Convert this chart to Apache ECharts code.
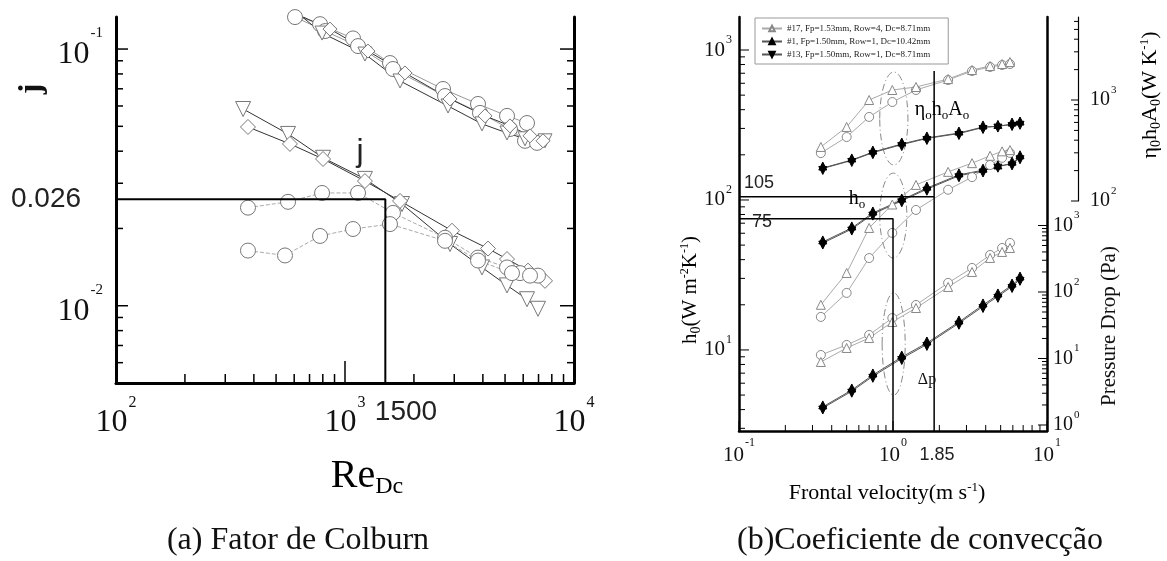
<!DOCTYPE html>
<html>
<head>
<meta charset="utf-8">
<script src="https://cdn.jsdelivr.net/npm/echarts@6/dist/echarts.min.js"></script>
<style>
  html, body { margin: 0; background: #fff; }
  #chart { width: 1167px; height: 561px; }
</style>
</head>
<body>
<div id="chart"></div>
<script>
// ---------- (a) Colburn factor vs Re_Dc ----------
// upper group (unlabelled, friction-like curves)
const reUpCirc1 = [575, 778, 1084, 1572, 2679, 3809, 5099, 6234];
const upCirc1 = [0.138, 0.125, 0.110, 0.0882, 0.0699, 0.0611, 0.0549, 0.0515];
const reUpCirc2 = [605, 818, 1140, 1620, 2734, 3886, 5254, 6109, 6893];
const upCirc2 = [0.1332, 0.1175, 0.1027, 0.0836, 0.0656, 0.0564, 0.0488, 0.0439, 0.0431];
const reUpTri = [636, 794, 1222, 1739, 2818, 3965, 5099, 6109, 7470];
const upTri = [0.1356, 0.1154, 0.0956, 0.0751, 0.0600, 0.0511, 0.0471, 0.0447, 0.0439];
const reUpDia = [575, 860, 1260, 1828, 2875, 4087, 5254, 6426, 7322];
const upDia = [0.1406, 0.1196, 0.0982, 0.0807, 0.0639, 0.0549, 0.0502, 0.0459, 0.0439];
// lower group (j)
const reJTri = [359, 564, 802, 1222, 1774, 2875, 3965, 5099, 6234, 6963];
const jTri = [0.0584, 0.0467, 0.0377, 0.0312, 0.0249, 0.0174, 0.0141, 0.0120, 0.0106, 0.00973];
const reJDia = [377, 575, 802, 1222, 1739, 2933, 4213, 5099, 6297, 7470];
const jDia = [0.0497, 0.0427, 0.0373, 0.0306, 0.0256, 0.0196, 0.0167, 0.0152, 0.0137, 0.0125];
const reJCircA = [377, 564, 794, 1140, 1620, 2734, 3809, 5099, 5810, 6963];
const jCircA = [0.0241, 0.0254, 0.0275, 0.0275, 0.0230, 0.0184, 0.0154, 0.0141, 0.0134, 0.0131];
const reJCircB = [377, 547, 778, 1084, 1572, 2734, 3809, 5361, 6426];
const jCircB = [0.0164, 0.0157, 0.0187, 0.0199, 0.0208, 0.0179, 0.0150, 0.0134, 0.0131];
const guideA = [[83, 0.026], [1500, 0.026], [1500, 0.005]];

// ---------- (b) h0, eta0h0A0 and pressure drop vs frontal velocity ----------
const legendNames = ['#17, Fp=1.53mm, Row=4, Dc=8.71mm', '#1, Fp=1.50mm, Row=1, Dc=10.42mm', '#13, Fp=1.50mm, Row=1, Dc=8.71mm'];
const vOpen = [0.34, 0.50, 0.70, 0.99, 1.41, 2.28, 3.26, 4.27, 5.11, 5.75];
const vFill = [0.35, 0.54, 0.74, 1.14, 1.66, 2.68, 3.84, 4.80, 5.93, 6.68];
// open circle (legend row cut off at the top)
const etaCirc = [298, 430, 680, 955, 1256, 1578, 1937, 2123, 2222, 2272];
const hCirc = [16.6, 24.0, 41.0, 60.3, 85.8, 117, 142, 171, 191, 206];
const dpCirc = [11.3, 16.0, 22.6, 40.6, 63.8, 137, 230, 360, 459, 546];
// #17 open triangle
const eta17 = [343, 541, 1000, 1256, 1345, 1613, 1982, 2173, 2272, 2376];
const h17 = [20.0, 32.6, 65.1, 93.3, 126, 154, 176, 197, 211, 215];
const dp17 = [8.86, 14.4, 20.3, 35.4, 57.4, 119, 200, 325, 400, 459];
// #1 filled triangle
const eta1 = [212, 255, 305, 367, 421, 471, 541, 548, 578, 592];
const h1 = [52.5, 65.1, 81.9, 100, 120, 147, 158, 166, 176, 194];
const dp1 = [1.87, 3.36, 5.65, 10.5, 17.1, 35.4, 63.8, 90.2, 127, 162];
// #13 filled down triangle
const eta13 = [210, 252, 301, 362, 416, 466, 534, 552, 572, 588];
const h13 = [51.6, 64.0, 80.5, 98.8, 118, 145, 156, 168, 174, 191];
const dp13 = [1.80, 3.22, 5.40, 10.0, 16.3, 33.9, 60.5, 86.0, 121, 155];
// annotation guides and dash-dot ellipses (velocity range, h0 range)
const guide105 = [[0.1, 105], [1.85, 105]];
const guide185 = [[1.85, 724], [1.85, 2.88]];
const guide75 = [[0.1, 75], [1, 75], [1, 2.88]];
const ellipses = [[0.82, 1.25, 713, 171], [0.82, 1.23, 151, 41], [0.85, 1.2, 24, 5.0]];

const SERIF = '"Liberation Serif", "DejaVu Serif", serif';
const SANS = '"Liberation Sans", Arial, sans-serif';

const isPow = v => Math.abs(Math.log10(v) - Math.round(Math.log10(v))) < 1e-6;
const powLabel = (lo, hi) => v => (isPow(v) && v >= lo * 0.999 && v <= hi * 1.001) ? '{b|10}{s|' + Math.round(Math.log10(v)) + '}' : '';
const powRich = (big, small, lift) => ({
  b: { fontFamily: SERIF, fontSize: big, color: '#111', lineHeight: big },
  s: { fontFamily: SERIF, fontSize: small, color: '#111', padding: [0, 0, lift * 2, 1] }
});

function logTicks(lo, hi) {
  const out = [];
  for (let e = Math.floor(Math.log10(lo)); e <= Math.ceil(Math.log10(hi)); e++) {
    for (let m = 1; m <= 9; m++) {
      const v = m * Math.pow(10, e);
      if (v >= lo * 0.999 && v <= hi * 1.001) out.push([v, m === 1 ? 1 : 0]);
    }
  }
  return out;
}

function tickSeries(xi, yi, ticks, horiz, fixed, dir, majLen, minLen, lw, xoff) {
  return {
    type: 'custom', xAxisIndex: xi, yAxisIndex: yi, silent: true, clip: false, z: 6,
    data: ticks.map(t => horiz ? [t[0], fixed, t[1]] : [fixed, t[0], t[1]]),
    encode: { x: 0, y: 1 },
    renderItem: (params, api) => {
      const p = api.coord([api.value(0), api.value(1)]);
      const x0 = p[0] + (xoff || 0);
      const len = api.value(2) ? majLen : minLen;
      const shape = horiz
        ? { x1: x0, y1: p[1], x2: x0, y2: p[1] + dir * len }
        : { x1: x0, y1: p[1], x2: x0 + dir * len, y2: p[1] };
      return { type: 'line', shape, style: { stroke: '#000', lineWidth: lw } };
    }
  };
}

function curve(name, xi, yi, xs, ys, symbol, size, o) {
  o = o || {};
  return {
    name, type: 'line', xAxisIndex: xi, yAxisIndex: yi,
    data: xs.map((x, i) => [x, ys[i]]),
    symbol, symbolSize: size, symbolRotate: o.rot || 0, symbolOffset: o.off || [0, 0],
    showAllSymbol: true, z: 3,
    lineStyle: { color: o.line || '#777', width: 1, type: o.dash || 'solid' },
    itemStyle: { color: o.fill || '#fff', borderColor: o.edge || '#777', borderWidth: 1 }
  };
}

function guide(xi, yi, pts, w) {
  return {
    type: 'line', xAxisIndex: xi, yAxisIndex: yi, data: pts, symbol: 'none', clip: false, silent: true, z: 4,
    lineStyle: { color: '#000', width: w || 1.5 }
  };
}

const open = { fill: '#fff', edge: '#888', line: '#aaa' };
const openA = { fill: '#fff', edge: '#777', line: '#999' };
const filled = { fill: '#000', edge: '#000', line: '#555' };

const txt = (x, y, text, size, fam, extra) => ({
  type: 'text', x, y, z: 10,
  style: Object.assign({ text, fontSize: size, fontFamily: fam, fill: '#111', align: 'center', verticalAlign: 'middle' }, extra || {})
});
const sub = (size) => ({ fontFamily: SERIF, fontSize: size, color: '#111', padding: [size * 0.9, 0, 0, 0] });
const sup = (size) => ({ fontFamily: SERIF, fontSize: size, color: '#111', padding: [0, 0, size * 0.9, 0] });
const base = (size) => ({ fontFamily: SERIF, fontSize: size, color: '#111' });

const chart = echarts.init(document.getElementById('chart'));
chart.setOption({
  animation: false,
  backgroundColor: '#fff',
  grid: [
    { left: 116, top: 17, width: 458, height: 366 },
    { left: 739, top: 17, width: 308, height: 414 },
    { left: 739, top: 17, width: 308, height: 184 }
  ],
  legend: {
    data: legendNames, orient: 'vertical', left: 755, top: 18,
    itemWidth: 20, itemHeight: 7, itemGap: 4, padding: [6, 18, 5, 6],
    borderColor: '#999', borderWidth: 1,
    textStyle: { fontFamily: SERIF, fontSize: 9, color: '#222' }
  },
  xAxis: [
    { gridIndex: 0, type: 'log', min: 100, max: 10000, splitLine: { show: false }, axisTick: { show: false },
      axisLine: { lineStyle: { color: '#000', width: 3 } },
      axisLabel: { formatter: powLabel(100, 10000), rich: powRich(32, 16, 20), margin: 12 } },
    { gridIndex: 1, type: 'log', min: 0.1, max: 10, splitLine: { show: false }, axisTick: { show: false },
      axisLine: { lineStyle: { color: '#000', width: 2.5 } },
      axisLabel: { formatter: powLabel(0.1, 10), rich: powRich(21, 12, 12), margin: 6 } },
    { gridIndex: 2, type: 'log', min: 0.1, max: 10, show: false }
  ],
  yAxis: [
    { gridIndex: 0, type: 'log', min: 0.005, max: 0.1333, splitLine: { show: false }, axisTick: { show: false },
      axisLine: { lineStyle: { color: '#000', width: 3 } },
      axisLabel: { formatter: powLabel(0.005, 0.1333), rich: powRich(32, 15, 22), margin: 13, padding: [12, 0, 0, 0] } },
    { gridIndex: 0, type: 'log', min: 0.005, max: 0.1333, position: 'right', splitLine: { show: false },
      axisTick: { show: false }, axisLabel: { show: false },
      axisLine: { show: true, lineStyle: { color: '#000', width: 3 } } },
    { gridIndex: 1, type: 'log', min: 2.88, max: 1660, splitLine: { show: false }, axisTick: { show: false },
      axisLine: { lineStyle: { color: '#000', width: 2.5 } },
      axisLabel: { formatter: powLabel(10, 1000), rich: powRich(21, 12, 10), margin: 7 } },
    { gridIndex: 1, type: 'log', min: 0.812, max: 1.365e6, position: 'right', splitLine: { show: false },
      axisTick: { show: false },
      axisLine: { show: true, lineStyle: { color: '#000', width: 2.5 } },
      axisLabel: { formatter: powLabel(1, 1000), rich: powRich(20, 11, 10), margin: 6 } },
    { gridIndex: 2, type: 'log', min: 100, max: 6637, position: 'right', offset: 31, splitLine: { show: false },
      axisTick: { show: false },
      axisLine: { show: true, lineStyle: { color: '#000', width: 1.2 } },
      axisLabel: { formatter: powLabel(100, 1000), rich: powRich(20, 11, 10), margin: 12 } }
  ],
  series: [
    // panel (a)
    curve('fc1', 0, 0, reUpCirc1, upCirc1, 'circle', 15, openA),
    curve('fc2', 0, 0, reUpCirc2, upCirc2, 'circle', 15, openA),
    curve('ft', 0, 0, reUpTri, upTri, 'triangle', 14, Object.assign({}, openA, { rot: 180, line: '#333' })),
    curve('fd', 0, 0, reUpDia, upDia, 'diamond', 14, Object.assign({}, openA, { line: '#333' })),
    curve('jt', 0, 0, reJTri, jTri, 'triangle', 15, Object.assign({}, openA, { rot: 180, line: '#333' })),
    curve('jd', 0, 0, reJDia, jDia, 'diamond', 15, Object.assign({}, openA, { line: '#333' })),
    curve('jca', 0, 0, reJCircA, jCircA, 'circle', 15, Object.assign({}, openA, { line: '#aaa', dash: [4, 2] })),
    curve('jcb', 0, 0, reJCircB, jCircB, 'circle', 15, Object.assign({}, openA, { line: '#aaa', dash: [4, 2] })),
    guide(0, 0, guideA, 2),
    tickSeries(0, 0, logTicks(100, 10000), true, 0.005, -1, 22, 9, 1.5),
    tickSeries(0, 0, logTicks(0.005, 0.1333), false, 100, 1, 12, 7, 1.5),
    tickSeries(0, 0, logTicks(0.005, 0.1333), false, 10000, -1, 14, 7, 1.5),
    // panel (b)
    curve('circ', 2, 4, vOpen, etaCirc, 'circle', 9, open),
    curve('circ', 1, 2, vOpen, hCirc, 'circle', 9, open),
    curve('circ', 1, 3, vOpen, dpCirc, 'circle', 9, open),
    curve(legendNames[0], 2, 4, vOpen, eta17, 'triangle', 9, open),
    curve(legendNames[0], 1, 2, vOpen, h17, 'triangle', 9, open),
    curve(legendNames[0], 1, 3, vOpen, dp17, 'triangle', 9, open),
    curve(legendNames[1], 2, 4, vFill, eta1, 'triangle', 8, Object.assign({ off: [0, -2] }, filled)),
    curve(legendNames[1], 1, 2, vFill, h1, 'triangle', 8, Object.assign({ off: [0, -2] }, filled)),
    curve(legendNames[1], 1, 3, vFill, dp1, 'triangle', 8, Object.assign({ off: [0, -2] }, filled)),
    curve(legendNames[2], 2, 4, vFill, eta13, 'triangle', 8, Object.assign({ rot: 180, off: [0, 2] }, filled)),
    curve(legendNames[2], 1, 2, vFill, h13, 'triangle', 8, Object.assign({ rot: 180, off: [0, 2] }, filled)),
    curve(legendNames[2], 1, 3, vFill, dp13, 'triangle', 8, Object.assign({ rot: 180, off: [0, 2] }, filled)),
    guide(1, 2, guide105, 1.5),
    guide(1, 2, guide185, 1.5),
    guide(1, 2, guide75, 1.5),
    {
      type: 'custom', xAxisIndex: 1, yAxisIndex: 2, silent: true, z: 2,
      data: ellipses, encode: { x: [0, 1], y: [2, 3] },
      renderItem: (params, api) => {
        const a = api.coord([api.value(0), api.value(2)]);
        const b = api.coord([api.value(1), api.value(3)]);
        return {
          type: 'ellipse',
          shape: { cx: (a[0] + b[0]) / 2, cy: (a[1] + b[1]) / 2, rx: Math.abs(b[0] - a[0]) / 2, ry: Math.abs(b[1] - a[1]) / 2 },
          style: { fill: 'none', stroke: '#888', lineWidth: 1, lineDash: [7, 3, 1, 3] }
        };
      }
    },
    tickSeries(1, 2, logTicks(0.1, 10), true, 2.88, -1, 10, 6, 1),
    tickSeries(1, 2, logTicks(2.88, 1660), false, 0.1, 1, 10, 6, 1),
    tickSeries(1, 3, logTicks(1, 1000), false, 10, -1, 9, 5, 1),
    tickSeries(2, 4, logTicks(100, 6637), false, 10, -1, 7, 4, 1, 31)
  ],
  graphic: [
    // panel (a) annotations
    txt(46, 199, '0.026', 28, SANS, { fill: '#222' }),
    txt(406, 412, '1500', 28, SANS, { fill: '#222' }),
    txt(360, 152, 'j', 32, SANS, { fill: '#222' }),
    { type: 'text', x: 32, y: 89, rotation: Math.PI / 2, z: 10,
      style: { text: 'j', fontSize: 32, fontFamily: SERIF, fontWeight: 'bold', fill: '#111', align: 'center', verticalAlign: 'middle' } },
    { type: 'text', x: 367, y: 476, z: 10,
      style: { text: '{b|Re}{s|Dc}', align: 'center', verticalAlign: 'middle', rich: { b: base(40), s: sub(24) } } },
    // panel (b) annotations
    txt(759, 183, '105', 18, SANS, { fill: '#222' }),
    txt(762, 222, '75', 18, SANS, { fill: '#222' }),
    txt(937, 455, '1.85', 18, SANS, { fill: '#222' }),
    { type: 'text', x: 942, y: 110, z: 10,
      style: { text: '{b|η}{s|o}{b|h}{s|o}{b|A}{s|o}', align: 'center', verticalAlign: 'middle', rich: { b: base(20), s: sub(13) } } },
    { type: 'text', x: 857, y: 199, z: 10,
      style: { text: '{b|h}{s|o}', align: 'center', verticalAlign: 'middle', rich: { b: base(20), s: sub(13) } } },
    txt(927, 380, 'Δp', 16, SERIF),
    { type: 'text', x: 690, y: 290, rotation: Math.PI / 2, z: 10,
      style: { text: '{b|h}{s|0}{b|(W m}{u|-2}{b|K}{u|-1}{b|)}', align: 'center', verticalAlign: 'middle',
        rich: { b: base(21), s: sub(14), u: sup(12) } } },
    { type: 'text', x: 1109, y: 326, rotation: Math.PI / 2, z: 10,
      style: { text: 'Pressure Drop (Pa)', fontSize: 21, fontFamily: SERIF, fill: '#111', align: 'center', verticalAlign: 'middle' } },
    { type: 'text', x: 1150, y: 95, rotation: Math.PI / 2, z: 10,
      style: { text: '{b|η}{s|0}{b|h}{s|0}{b|A}{s|0}{b|(W K}{u|-1}{b|)}', align: 'center', verticalAlign: 'middle',
        rich: { b: base(22), s: sub(14), u: sup(13) } } },
    { type: 'text', x: 887, y: 493, z: 10,
      style: { text: '{b|Frontal velocity(m s}{u|-1}{b|)}', align: 'center', verticalAlign: 'middle',
        rich: { b: base(22), u: sup(13) } } },
    // captions
    txt(298, 541, '(a) Fator de Colburn', 32, SERIF),
    txt(920, 541, '(b)Coeficiente de convecção', 32, SERIF)
  ]
});
</script>
</body>
</html>
